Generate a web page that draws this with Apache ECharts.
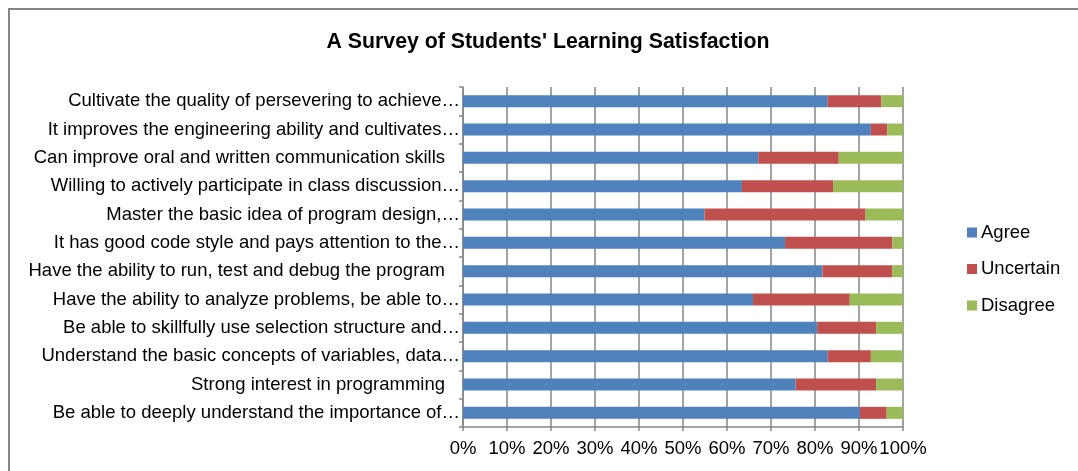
<!DOCTYPE html>
<html>
<head>
<meta charset="utf-8">
<script src="https://cdn.jsdelivr.net/npm/echarts@6/dist/echarts.min.js"></script>
<style>
html,body{margin:0;padding:0;background:#fff;}
#chart{width:1078px;height:471px;}
</style>
</head>
<body>
<div id="chart"></div>
<script>
const categories = [
  "Cultivate the quality of persevering to achieve…",
  "It improves the engineering ability and cultivates…",
  "Can improve oral and written communication skills",
  "Willing to actively participate in class discussion…",
  "Master the basic idea of program design,…",
  "It has good code style and pays attention to the…",
  "Have the ability to run, test and debug the program",
  "Have the ability to analyze problems, be able to…",
  "Be able to skillfully use selection structure and…",
  "Understand the basic concepts of variables, data…",
  "Strong interest in programming",
  "Be able to deeply understand the importance of…"
];
const agree     = [82.9, 92.7, 67.1, 63.4, 54.9, 73.2, 81.7, 65.9, 80.5, 82.9, 75.6, 90.2];
const uncertain = [12.2,  3.7, 18.3, 20.7, 36.6, 24.4, 15.9, 22.0, 13.4,  9.8, 18.3,  6.1];
const disagree  = [ 4.9,  3.6, 14.6, 15.9,  8.5,  2.4,  2.4, 12.1,  6.1,  7.3,  6.1,  3.7];
const seriesNames = ["Agree", "Uncertain", "Disagree"];
const xTicks = [0, 10, 20, 30, 40, 50, 60, 70, 80, 90, 100];

const FONT = "Liberation Sans, Arial, sans-serif";
const GRAY = "#868686";
const FS = 18.5;

const chart = echarts.init(document.getElementById('chart'), null, {renderer: 'canvas'});
chart.setOption({
  animation: false,
  backgroundColor: '#fff',
  graphic: [{
    type: 'rect', silent: true, z: -1,
    shape: {x: 9, y: 9, width: 1200, height: 600},
    style: {fill: 'none', stroke: GRAY, lineWidth: 2}
  }],
  title: {
    text: "A Survey of Students' Learning Satisfaction",
    left: 543, top: 27, textAlign: 'center',
    textStyle: {fontFamily: FONT, fontSize: 21.3, fontWeight: 'bold', color: '#000'}
  },
  legend: {
    orient: 'vertical', left: 967, top: 223, padding: 0,
    itemWidth: 10, itemHeight: 10, itemGap: 17.5, icon: 'rect',
    data: seriesNames,
    textStyle: {fontFamily: FONT, fontSize: FS, color: '#000', padding: [0, 0, 0, -1]}
  },
  grid: {left: 463, right: 175, top: 87, bottom: 44, containLabel: false},
  xAxis: {
    type: 'value', min: xTicks[0], max: xTicks[xTicks.length - 1], interval: 10,
    axisLine: {show: true, lineStyle: {color: GRAY, width: 1.5}},
    axisTick: {show: true, length: 4, lineStyle: {color: GRAY, width: 1.5}},
    splitLine: {show: true, lineStyle: {color: GRAY, width: 1.5}},
    axisLabel: {margin: 12, formatter: v => v + '%', fontFamily: FONT, fontSize: FS, color: '#000'}
  },
  yAxis: {
    type: 'category', inverse: true, data: categories,
    axisLine: {show: true, lineStyle: {color: GRAY, width: 1.5}},
    axisTick: {show: true, length: 4, lineStyle: {color: GRAY, width: 1.5}},
    axisLabel: {
      margin: 3, fontFamily: FONT, fontSize: FS, color: '#000',
      formatter: v => v.endsWith('…') ? v : '{p|' + v + '}',
      rich: {p: {fontFamily: FONT, fontSize: FS, color: '#000', padding: [0, 15, 0, 0]}}
    }
  },
  series: [
    {name: seriesNames[0], type: 'bar', stack: 't', data: agree, barWidth: 12, itemStyle: {color: '#4F81BD'}},
    {name: seriesNames[1], type: 'bar', stack: 't', data: uncertain, barWidth: 12, itemStyle: {color: '#C0504D'}},
    {name: seriesNames[2], type: 'bar', stack: 't', data: disagree, barWidth: 12, itemStyle: {color: '#9BBB59'}}
  ]
});
</script>
</body>
</html>
